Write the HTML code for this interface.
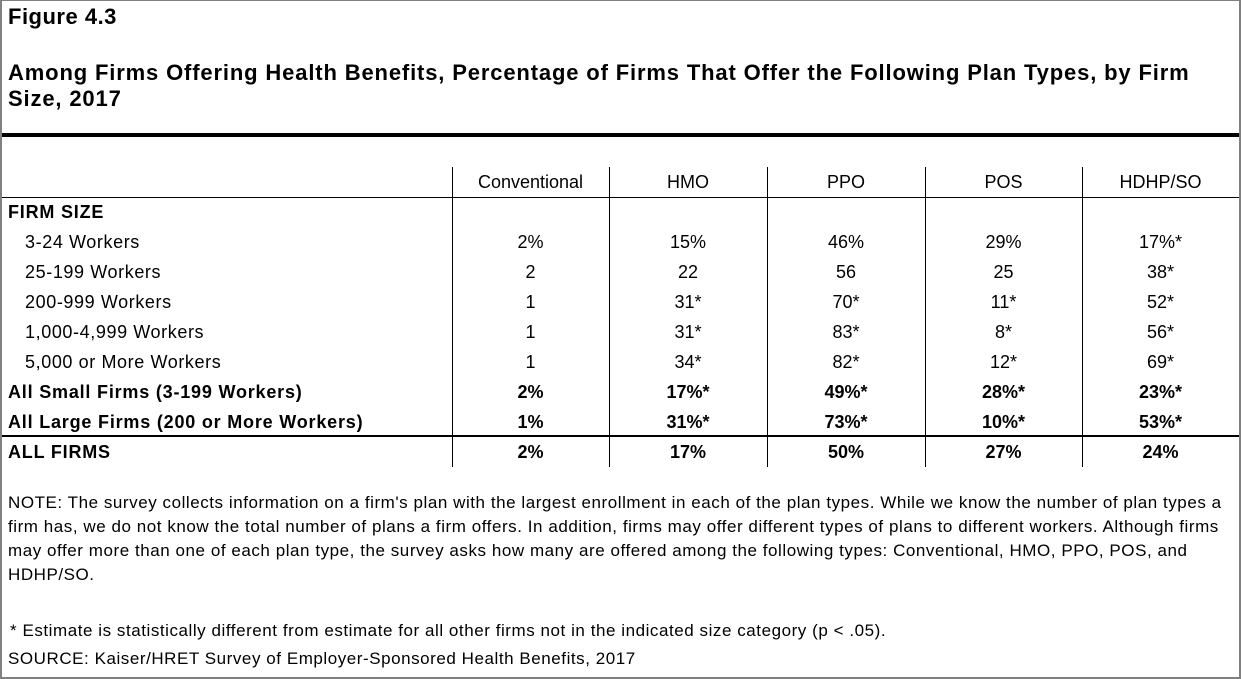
<!DOCTYPE html>
<html>
<head>
<meta charset="utf-8">
<style>
  html, body { margin:0; padding:0; background:#fff; }
  body { width:1241px; height:679px; position:relative; overflow:hidden;
         font-family:"Liberation Sans", Arial, sans-serif; color:#000; }
  .frame { position:absolute; left:0; top:0; width:1237px; height:676px;
           border-left:2px solid #808080; border-right:2px solid #808080;
           border-bottom:2px solid #808080; border-top:1px solid #808080; }
  .t { position:absolute; white-space:nowrap; }
  .title { font-weight:bold; font-size:22px; line-height:26px; left:8px; letter-spacing:0.85px; }
  .hl { position:absolute; background:#000; }
  .vl { position:absolute; background:#000; width:1px; top:167px; height:300px; }
  .row { position:absolute; left:0; width:1240px; height:30px; font-size:18px; line-height:30px; }
  .row .lab { position:absolute; left:8px; white-space:nowrap; letter-spacing:0.6px; }
  .row.b .lab { letter-spacing:0.8px; }
  .row .lab.ind { left:25px; }
  .row .c { position:absolute; text-align:center; white-space:nowrap; }
  .b { font-weight:bold; }
  .note { position:absolute; left:8px; font-size:17px; line-height:24px; white-space:nowrap; letter-spacing:0.55px; }
</style>
</head>
<body>
<div class="frame"></div>

<div class="t title" style="top:4px; letter-spacing:0.5px;">Figure 4.3</div>
<div class="t title" style="top:60px;">Among Firms Offering Health Benefits, Percentage of Firms That Offer the Following Plan Types, by Firm<br>Size, 2017</div>

<div class="hl" style="left:2px; top:133px; width:1237px; height:4px;"></div>
<div class="hl" style="left:2px; top:197px; width:1237px; height:1px;"></div>
<div class="hl" style="left:2px; top:435px; width:1237px; height:2px;"></div>

<div class="vl" style="left:452px;"></div>
<div class="vl" style="left:609px;"></div>
<div class="vl" style="left:767px;"></div>
<div class="vl" style="left:925px;"></div>
<div class="vl" style="left:1082px;"></div>

<!-- header -->
<div class="row" style="top:167px;">
  <div class="c" style="left:452px;width:157px;">Conventional</div>
  <div class="c" style="left:609px;width:158px;">HMO</div>
  <div class="c" style="left:767px;width:158px;">PPO</div>
  <div class="c" style="left:925px;width:157px;">POS</div>
  <div class="c" style="left:1082px;width:157px;">HDHP/SO</div>
</div>

<div class="row b" style="top:197px;">
  <div class="lab">FIRM SIZE</div>
</div>

<div class="row" style="top:227px;">
  <div class="lab ind">3-24 Workers</div>
  <div class="c" style="left:452px;width:157px;">2%</div>
  <div class="c" style="left:609px;width:158px;">15%</div>
  <div class="c" style="left:767px;width:158px;">46%</div>
  <div class="c" style="left:925px;width:157px;">29%</div>
  <div class="c" style="left:1082px;width:157px;">17%*</div>
</div>

<div class="row" style="top:257px;">
  <div class="lab ind">25-199 Workers</div>
  <div class="c" style="left:452px;width:157px;">2</div>
  <div class="c" style="left:609px;width:158px;">22</div>
  <div class="c" style="left:767px;width:158px;">56</div>
  <div class="c" style="left:925px;width:157px;">25</div>
  <div class="c" style="left:1082px;width:157px;">38*</div>
</div>

<div class="row" style="top:287px;">
  <div class="lab ind">200-999 Workers</div>
  <div class="c" style="left:452px;width:157px;">1</div>
  <div class="c" style="left:609px;width:158px;">31*</div>
  <div class="c" style="left:767px;width:158px;">70*</div>
  <div class="c" style="left:925px;width:157px;">11*</div>
  <div class="c" style="left:1082px;width:157px;">52*</div>
</div>

<div class="row" style="top:317px;">
  <div class="lab ind">1,000-4,999 Workers</div>
  <div class="c" style="left:452px;width:157px;">1</div>
  <div class="c" style="left:609px;width:158px;">31*</div>
  <div class="c" style="left:767px;width:158px;">83*</div>
  <div class="c" style="left:925px;width:157px;">8*</div>
  <div class="c" style="left:1082px;width:157px;">56*</div>
</div>

<div class="row" style="top:347px;">
  <div class="lab ind">5,000 or More Workers</div>
  <div class="c" style="left:452px;width:157px;">1</div>
  <div class="c" style="left:609px;width:158px;">34*</div>
  <div class="c" style="left:767px;width:158px;">82*</div>
  <div class="c" style="left:925px;width:157px;">12*</div>
  <div class="c" style="left:1082px;width:157px;">69*</div>
</div>

<div class="row b" style="top:377px;">
  <div class="lab">All Small Firms (3-199 Workers)</div>
  <div class="c" style="left:452px;width:157px;">2%</div>
  <div class="c" style="left:609px;width:158px;">17%*</div>
  <div class="c" style="left:767px;width:158px;">49%*</div>
  <div class="c" style="left:925px;width:157px;">28%*</div>
  <div class="c" style="left:1082px;width:157px;">23%*</div>
</div>

<div class="row b" style="top:407px;">
  <div class="lab">All Large Firms (200 or More Workers)</div>
  <div class="c" style="left:452px;width:157px;">1%</div>
  <div class="c" style="left:609px;width:158px;">31%*</div>
  <div class="c" style="left:767px;width:158px;">73%*</div>
  <div class="c" style="left:925px;width:157px;">10%*</div>
  <div class="c" style="left:1082px;width:157px;">53%*</div>
</div>

<div class="row b" style="top:437px;">
  <div class="lab">ALL FIRMS</div>
  <div class="c" style="left:452px;width:157px;">2%</div>
  <div class="c" style="left:609px;width:158px;">17%</div>
  <div class="c" style="left:767px;width:158px;">50%</div>
  <div class="c" style="left:925px;width:157px;">27%</div>
  <div class="c" style="left:1082px;width:157px;">24%</div>
</div>

<div class="note" style="top:491px;">NOTE: The survey collects information on a firm's plan with the largest enrollment in each of the plan types. While we know the number of plan types a<br>firm has, we do not know the total number of plans a firm offers. In addition, firms may offer different types of plans to different workers. Although firms<br>may offer more than one of each plan type, the survey asks how many are offered among the following types: Conventional, HMO, PPO, POS, and<br>HDHP/SO.</div>

<div class="note" style="top:619px; left:10px;">* Estimate is statistically different from estimate for all other firms not in the indicated size category (p &lt; .05).</div>
<div class="note" style="top:647px;">SOURCE: Kaiser/HRET Survey of Employer-Sponsored Health Benefits, 2017</div>
</body>
</html>
